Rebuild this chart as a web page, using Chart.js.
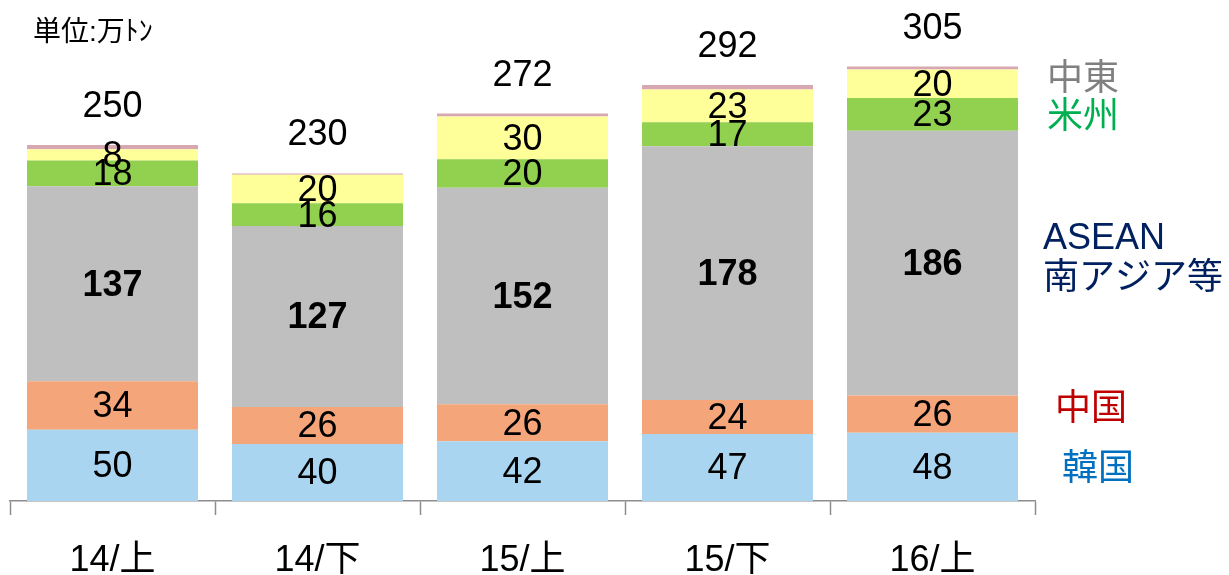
<!DOCTYPE html>
<html lang="ja">
<head>
<meta charset="UTF-8">
<title>仕向け地別 輸出量</title>
<script src="https://cdn.jsdelivr.net/npm/chart.js"></script>
<style>
  html, body { margin: 0; padding: 0; background: #ffffff; }
  #wrap { position: relative; width: 1229px; height: 575px; }
</style>
</head>
<body>
<div id="wrap">
  <canvas id="chart" width="1229" height="575"></canvas>
</div>
<script>
// 半期ごとの仕向け地別数量（万トン）
var periods = ['14/上', '14/下', '15/上', '15/下', '16/上'];
var korea   = [50, 40, 42, 47, 48];
var china   = [34, 26, 26, 24, 26];
var asean   = [137, 127, 152, 178, 186];
var america = [18, 16, 20, 17, 23];
var mideast = [8, 20, 30, 23, 20];
var others  = [3, 1, 2, 3, 2];
var totals  = [250, 230, 272, 292, 305];

var FONT = '"Liberation Sans", Arial, "Noto Sans CJK JP", sans-serif';

// 右側の凡例テキスト
var sideLabels = [
  { text: '中東', color: '#808080', x: 1047, y: 80 },
  { text: '米州', color: '#00B050', x: 1047, y: 118 },
  { text: 'ASEAN', color: '#002060', x: 1043, y: 239 },
  { text: '南アジア等', color: '#002060', x: 1043, y: 279 },
  { text: '中国', color: '#C00000', x: 1055, y: 410 },
  { text: '韓国', color: '#0070C0', x: 1062, y: 470 }
];

var labelPlugin = {
  id: 'labels',
  afterDatasetsDraw: function(chart) {
    var ctx = chart.ctx;
    ctx.save();
    ctx.textAlign = 'center';
    ctx.textBaseline = 'middle';
    ctx.fillStyle = '#000000';
    chart.data.datasets.forEach(function(ds, i) {
      if (ds.hideLabel) return;
      var meta = chart.getDatasetMeta(i);
      ctx.font = (ds.boldLabel ? 'bold ' : '') + '36px ' + FONT;
      meta.data.forEach(function(bar, j) {
        var yc = (bar.y + bar.base) / 2;
        ctx.fillText(String(ds.data[j]), bar.x, yc + 2);
      });
    });
    // 合計
    var top = chart.getDatasetMeta(chart.data.datasets.length - 1);
    ctx.font = '36px ' + FONT;
    top.data.forEach(function(bar, j) {
      ctx.fillText(String(totals[j]), bar.x, bar.y - 38);
    });
    // 単位
    ctx.textAlign = 'left';
    ctx.font = '28px ' + FONT;
    ctx.fillText('単位:万ﾄﾝ', 33, 33);
    // 凡例
    ctx.font = '36px ' + FONT;
    sideLabels.forEach(function(l) {
      ctx.fillStyle = l.color;
      ctx.fillText(l.text, l.x, l.y);
    });
    ctx.restore();
  }
};

new Chart(document.getElementById('chart').getContext('2d'), {
  type: 'bar',
  data: {
    labels: periods,
    datasets: [
      { label: '韓国', data: korea, backgroundColor: '#A9D5F0' },
      { label: '中国', data: china, backgroundColor: '#F4A57A' },
      { label: 'ASEAN・南アジア等', data: asean, backgroundColor: '#BFBFBF', boldLabel: true },
      { label: '米州', data: america, backgroundColor: '#92D050' },
      { label: '中東', data: mideast, backgroundColor: '#FFFF99' },
      { label: 'その他', data: others, backgroundColor: '#D8A8B2', hideLabel: true }
    ]
  },
  options: {
    responsive: false,
    animation: false,
    layout: { padding: { left: 10, right: 194, top: 31, bottom: -32 } },
    datasets: {
      bar: { categoryPercentage: 1.0, barPercentage: 0.834, borderWidth: 0 }
    },
    plugins: {
      legend: { display: false },
      tooltip: { enabled: false }
    },
    scales: {
      x: {
        stacked: true,
        border: { display: true, color: '#8C8C8C', width: 1.5 },
        grid: {
          display: true,
          drawOnChartArea: false,
          drawTicks: true,
          tickLength: 14,
          tickWidth: 1.5,
          tickColor: '#8C8C8C'
        },
        ticks: {
          color: '#000000',
          padding: 28,
          font: { family: FONT, size: 36, lineHeight: 1 }
        }
      },
      y: {
        stacked: true,
        display: false,
        min: 0,
        max: 330
      }
    }
  },
  plugins: [labelPlugin]
});
</script>
</body>
</html>
